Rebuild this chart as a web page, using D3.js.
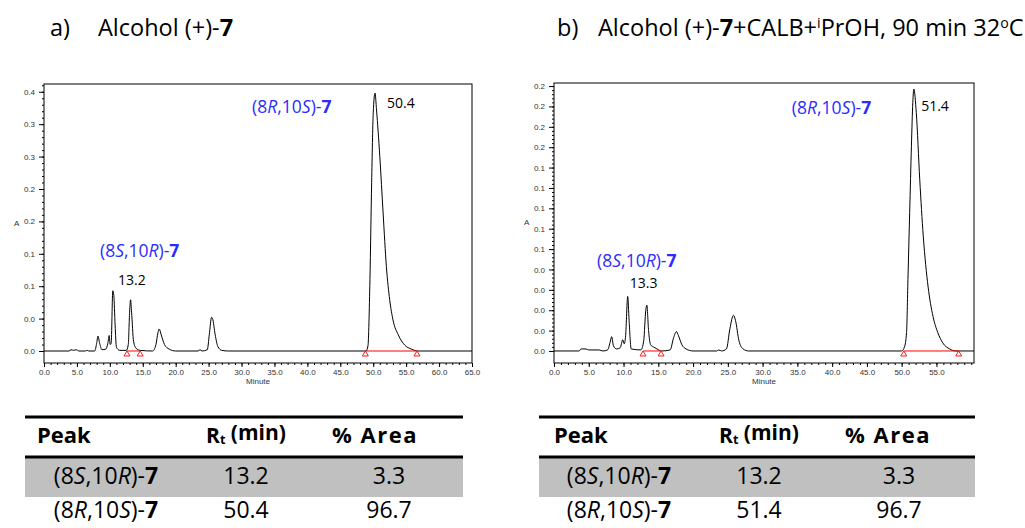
<!DOCTYPE html>
<html>
<head>
<meta charset="utf-8">
<style>
    body { margin: 0; background: #fff; }
    .ui { font-family: 'Open Sans', Lato, sans-serif; }
    .ax text { font-family: 'Liberation Sans', Arial, sans-serif; font-size: 8px; fill: #333; }
</style>
</head>
<body>
<svg id="workspace" width="1025" height="528"></svg>
<script src="https://d3js.org/d3.v7.min.js"></script>
<script>
    // chromatogram a) alcohol (+)-7 : retention time (min), absorbance (A)
    const traceA_t = [0, 3.8, 4.1, 4.5, 4.9, 5.3, 6.3, 6.5, 6.8, 7.7, 8.0, 8.2, 8.45, 8.8, 9.4, 9.7, 9.9, 10.05, 10.2, 10.45, 10.6, 10.8, 11.0, 11.5,
        12.5, 12.8, 13.0, 13.15, 13.3, 13.6, 14.0, 14.6, 16.5, 17.0, 17.3, 17.5, 17.8, 18.3, 19.0, 20, 23.4, 23.7, 24.0, 24.8, 25.1, 25.45, 25.6,
        26.0, 26.4, 27, 28, 48.9, 49.2, 49.5, 49.76, 50.0, 50.27, 50.5, 51.0, 51.5, 52.0, 52.5, 53.0, 53.8, 54.8, 55.8, 56.8, 65]
    const traceA_A = [0, 0, 0.002, 0.001, 0.002, 0, 0, 0.001, 0, 0, 0.012, 0.023, 0.012, 0.002, 0.003, 0.012, 0.024, 0.01, 0.012, 0.093, 0.086, 0.04, 0.006, 0.001,
        0.001, 0.01, 0.06, 0.079, 0.06, 0.015, 0.004, 0.001, 0, 0.01, 0.028, 0.034, 0.025, 0.01, 0.003, 0, 0, 0.002, 0, 0.002, 0.025, 0.052, 0.05,
        0.025, 0.007, 0.001, 0, 0, 0.008, 0.11, 0.26, 0.367, 0.398, 0.372, 0.30, 0.213, 0.130, 0.079, 0.048, 0.025, 0.009, 0.003, 0, 0]

    // chromatogram b) alcohol (+)-7 + CALB + iPrOH
    const traceB_t = [0, 3.6, 3.9, 4.6, 5.0, 6.5, 7.0, 7.7, 8.05, 8.3, 8.55, 9.0, 9.5, 9.9, 10.1, 10.3, 10.6, 10.8, 11.1, 12.5, 12.9, 13.2, 13.35,
        13.6, 13.9, 14.3, 14.8, 15.5, 16.7, 17.2, 17.6, 17.9, 18.4, 19.0, 20.0, 23.4, 23.7, 24.1, 24.8, 25.3, 25.8, 26.1, 26.6, 27.2, 28,
        50.0, 50.4, 50.7, 50.9, 51.15, 51.4, 51.6, 51.75, 52.1, 52.6, 53.1, 53.8, 54.5, 55.2, 55.9, 56.9, 57.8, 60.4]
    const traceB_A = [0, 0, 0.002, 0.002, 0.001, 0.001, 0, 0.001, 0.008, 0.014, 0.005, 0.002, 0.003, 0.011, 0.007, 0.015, 0.0535, 0.03, 0.002, 0.001, 0.01, 0.04, 0.045,
        0.02, 0.006, 0.004, 0.002, 0, 0.001, 0.013, 0.019, 0.015, 0.006, 0.002, 0, 0, 0.001, 0, 0.002, 0.022, 0.035, 0.03, 0.01, 0.002, 0,
        0, 0.004, 0.018, 0.07, 0.136, 0.201, 0.244, 0.257, 0.234, 0.168, 0.113, 0.063, 0.034, 0.018, 0.008, 0.002, 0, 0]

    // integration baselines [start, end] (min)
    const integA = [[12.6, 14.6], [48.8, 56.65]]
    const integB = [[12.8, 15.4], [50.3, 58.2]]

    // axis ticks
    const xTicksA = [0, 5, 10, 15, 20, 25, 30, 35, 40, 45, 50, 55, 60, 65]
    const xTicksB = [0, 5, 10, 15, 20, 25, 30, 35, 40, 45, 50, 55]
    const yTicksA = [0, 0.05, 0.10, 0.15, 0.20, 0.25, 0.30, 0.35, 0.40]
    const yLabelsA = ['0.0', '0.0', '0.1', '0.1', '0.2', '0.2', '0.3', '0.3', '0.4']
    const yTicksB = [0, 0.02, 0.04, 0.06, 0.08, 0.10, 0.12, 0.14, 0.16, 0.18, 0.20, 0.22, 0.24, 0.26]
    const yLabelsB = ['0.0', '0.0', '0.0', '0.0', '0.0', '0.1', '0.1', '0.1', '0.1', '0.1', '0.2', '0.2', '0.2', '0.2']

    // tables
    const peakNames = ['(8S,10R)-7', '(8R,10S)-7']
    const rtA = ['13.2', '50.4']
    const areaA = ['3.3', '96.7']
    const rtB = ['13.2', '51.4']
    const areaB = ['3.3', '96.7']
    const peakRtA = ['13.2', '50.4']
    const peakRtB = ['13.3', '51.4']

    let svg = d3.select('#workspace');

    function compoundParts(name) {
        let m = name.match(/\((\d)([RS]),(\d+)([RS])\)-(\d)/)
        return [['(' + m[1]], [m[2], 'i'], [',' + m[3]], [m[4], 'i'], [')-'], [m[5], 'b']]
    }

    function richText(sel, parts) {
        parts.forEach(function(p) {
            let t = sel.append('tspan').text(p[0])
            if (p[1] == 'i') t.attr('font-style', 'italic')
            if (p[1] == 'b') t.attr('font-weight', 'bold')
            if (p[1] == 'sup') t.attr('font-size', '0.6em').attr('dy', '-0.55em')
            if (p[1] == 'sub') t.attr('font-size', '0.6em').attr('dy', '0.35em')
            if (p[1] == 'reset') t.attr('dy', p[2])
        })
    }

    function drawChart(c) {
        let g = svg.append('g')
        let x = d3.scaleLinear().domain(c.xDomain).range([c.left, c.right])
        let y = d3.scaleLinear().domain(c.yDomain).range([c.bottom, c.top])

        // frame
        g.append('rect')
            .attr('x', c.left).attr('y', c.top)
            .attr('width', c.right - c.left).attr('height', c.bottom - c.top)
            .attr('fill', 'none').attr('stroke', '#000').attr('stroke-width', 1)

        // minor ticks
        g.append('g').attr('class', 'ax').attr('transform', 'translate(0,' + c.bottom + ')')
            .call(d3.axisBottom(x).tickValues(d3.range(0, c.xDomain[1], 1)).tickSize(2).tickFormat(''))
            .call(s => s.select('.domain').remove())
        g.append('g').attr('class', 'ax').attr('transform', 'translate(' + c.left + ',0)')
            .call(d3.axisLeft(y).tickValues(d3.range(0, c.yDomain[1], c.yMinor)).tickSize(2).tickFormat(''))
            .call(s => s.select('.domain').remove())

        // major ticks
        g.append('g').attr('class', 'ax').attr('transform', 'translate(0,' + c.bottom + ')')
            .call(d3.axisBottom(x).tickValues(c.xTicks).tickSize(4).tickPadding(2).tickFormat(d3.format('.1f')))
            .call(s => s.select('.domain').remove())
        g.append('g').attr('class', 'ax').attr('transform', 'translate(' + c.left + ',0)')
            .call(d3.axisLeft(y).tickValues(c.yTicks).tickSize(5).tickPadding(4)
                .tickFormat((d, i) => c.yLabels[i]))
            .call(s => s.select('.domain').remove())

        g.selectAll('.ax line').attr('stroke', '#000')

        g.append('text').attr('x', c.left - 30).attr('y', y((c.yDomain[0] + c.yDomain[1]) / 2))
            .attr('font-family', 'Liberation Sans, Arial, sans-serif').attr('font-size', 8).attr('fill', '#333')
            .attr('dominant-baseline', 'middle').text('A')
        g.append('text').attr('x', (c.left + c.right) / 2).attr('y', c.bottom + 21)
            .attr('font-family', 'Liberation Sans, Arial, sans-serif').attr('font-size', 8).attr('fill', '#333')
            .attr('text-anchor', 'middle').text('Minute')

        // trace
        let pts = c.t.map((t, i) => [t, c.a[i]])
        g.append('path').datum(pts)
            .attr('d', d3.line().x(d => x(d[0])).y(d => y(d[1])).curve(d3.curveMonotoneX))
            .attr('fill', 'none').attr('stroke', '#000').attr('stroke-width', 1)

        // integration baselines + markers
        c.integ.forEach(function(seg) {
            g.append('line').attr('x1', x(seg[0])).attr('x2', x(seg[1]))
                .attr('y1', y(0)).attr('y2', y(0))
                .attr('stroke', '#ff0000').attr('stroke-width', 1)
            seg.forEach(function(t) {
                let px = x(t), py = y(0)
                g.append('path')
                    .attr('d', 'M' + px + ',' + py + 'L' + (px - 3) + ',' + (py + 5) + 'L' + (px + 3) + ',' + (py + 5) + 'Z')
                    .attr('fill', '#fff').attr('stroke', '#ff0000').attr('stroke-width', 0.9)
            })
        })

        // peak annotations
        c.notes.forEach(function(n, i) {
            let tx = g.append('text').attr('class', 'ui')
                .attr('x', x(n.name[0])).attr('y', y(n.name[1]))
                .attr('dominant-baseline', 'middle').attr('font-size', 17.5).attr('fill', '#2b2bff')
            richText(tx, compoundParts(peakNames[i]))
            g.append('text').attr('class', 'ui')
                .attr('x', x(n.rt[0])).attr('y', y(n.rt[1]))
                .attr('dominant-baseline', 'middle').attr('font-size', 14).attr('fill', '#000')
                .text(c.peakRt[i])
        })
    }

    function drawTable(c) {
        let g = svg.append('g').attr('class', 'ui')
        g.append('rect').attr('x', c.x0).attr('y', c.ruleY[1]).attr('width', c.x1 - c.x0).attr('height', c.rowH)
            .attr('fill', '#c0c0c0')
        c.ruleY.forEach(function(ry) {
            g.append('line').attr('x1', c.x0).attr('x2', c.x1).attr('y1', ry).attr('y2', ry)
                .attr('stroke', '#000').attr('stroke-width', 3)
        })
        g.append('text').attr('x', c.peakX).attr('y', c.headY).attr('font-size', 22).attr('font-weight', 'bold')
            .attr('dominant-baseline', 'middle').text('Peak')
        let h2 = g.append('text').attr('x', c.colX[1]).attr('y', c.headY).attr('font-size', 21).attr('font-weight', 'bold')
            .attr('text-anchor', 'middle').attr('dominant-baseline', 'middle')
        richText(h2, [['R'], ['t', 'sub'], [' (min)', 'reset', '-0.35em']])
        g.append('text').attr('x', c.colX[3]).attr('y', c.headY).attr('font-size', 22).attr('font-weight', 'bold')
            .attr('text-anchor', 'middle').attr('dominant-baseline', 'middle').attr('letter-spacing', 1.5)
            .text('% Area')

        peakNames.forEach(function(name, i) {
            let ry = c.rowY[i]
            let t0 = g.append('text').attr('x', c.colX[0]).attr('y', ry).attr('font-size', 23)
                .attr('text-anchor', 'middle').attr('dominant-baseline', 'middle')
            richText(t0, compoundParts(name))
            g.append('text').attr('x', c.colX[1]).attr('y', ry).attr('font-size', 23)
                .attr('text-anchor', 'middle').attr('dominant-baseline', 'middle').text(c.rt[i])
            g.append('text').attr('x', c.colX[2]).attr('y', ry).attr('font-size', 23)
                .attr('text-anchor', 'middle').attr('dominant-baseline', 'middle').text(c.area[i])
        })
    }

    // titles
    svg.append('text').attr('class', 'ui').attr('x', 50).attr('y', 36).attr('font-size', 23.5).text('a)')
    let ta = svg.append('text').attr('class', 'ui').attr('x', 98).attr('y', 36).attr('font-size', 23.5)
    richText(ta, [['Alcohol (+)-'], ['7', 'b']])
    svg.append('text').attr('class', 'ui').attr('x', 557).attr('y', 36).attr('font-size', 23.5).text('b)')
    let tb = svg.append('text').attr('class', 'ui').attr('x', 598).attr('y', 36).attr('font-size', 23.5)
    richText(tb, [['Alcohol (+)-'], ['7', 'b'], ['+CALB+'], ['i', 'sup'], ['PrOH, 90 min 32', 'reset', '0.33em'], ['o', 'sup'], ['C', 'reset', '0.33em']])

    drawChart({
        left: 44, right: 472, top: 84, bottom: 363,
        xDomain: [0, 65], yDomain: [-0.0185, 0.412], yMinor: 0.01,
        xTicks: xTicksA, yTicks: yTicksA, yLabels: yLabelsA,
        t: traceA_t, a: traceA_A, integ: integA, peakRt: peakRtA,
        notes: [{ name: [8.5, 0.153], rt: [11.24, 0.108] }, { name: [31.6, 0.375], rt: [52.1, 0.381] }]
    })
    drawChart({
        left: 554, right: 974, top: 83, bottom: 363,
        xDomain: [0, 60.4], yDomain: [-0.0118, 0.263], yMinor: 0.004,
        xTicks: xTicksB, yTicks: yTicksB, yLabels: yLabelsB,
        t: traceB_t, a: traceB_A, integ: integB, peakRt: peakRtB,
        notes: [{ name: [6.2, 0.0875], rt: [10.9, 0.0658] }, { name: [34.2, 0.2375], rt: [52.8, 0.2395] }]
    })

    drawTable({ x0: 25, x1: 463, ruleY: [417, 457], rowH: 40, headY: 437, rowY: [478, 512],
        peakX: 37, colX: [106, 246, 389, 375], rt: rtA, area: areaA })
    drawTable({ x0: 539, x1: 975, ruleY: [417, 457], rowH: 40, headY: 437, rowY: [478, 512],
        peakX: 554, colX: [619, 759, 899, 888], rt: rtB, area: areaB })
</script>
</body>
</html>
